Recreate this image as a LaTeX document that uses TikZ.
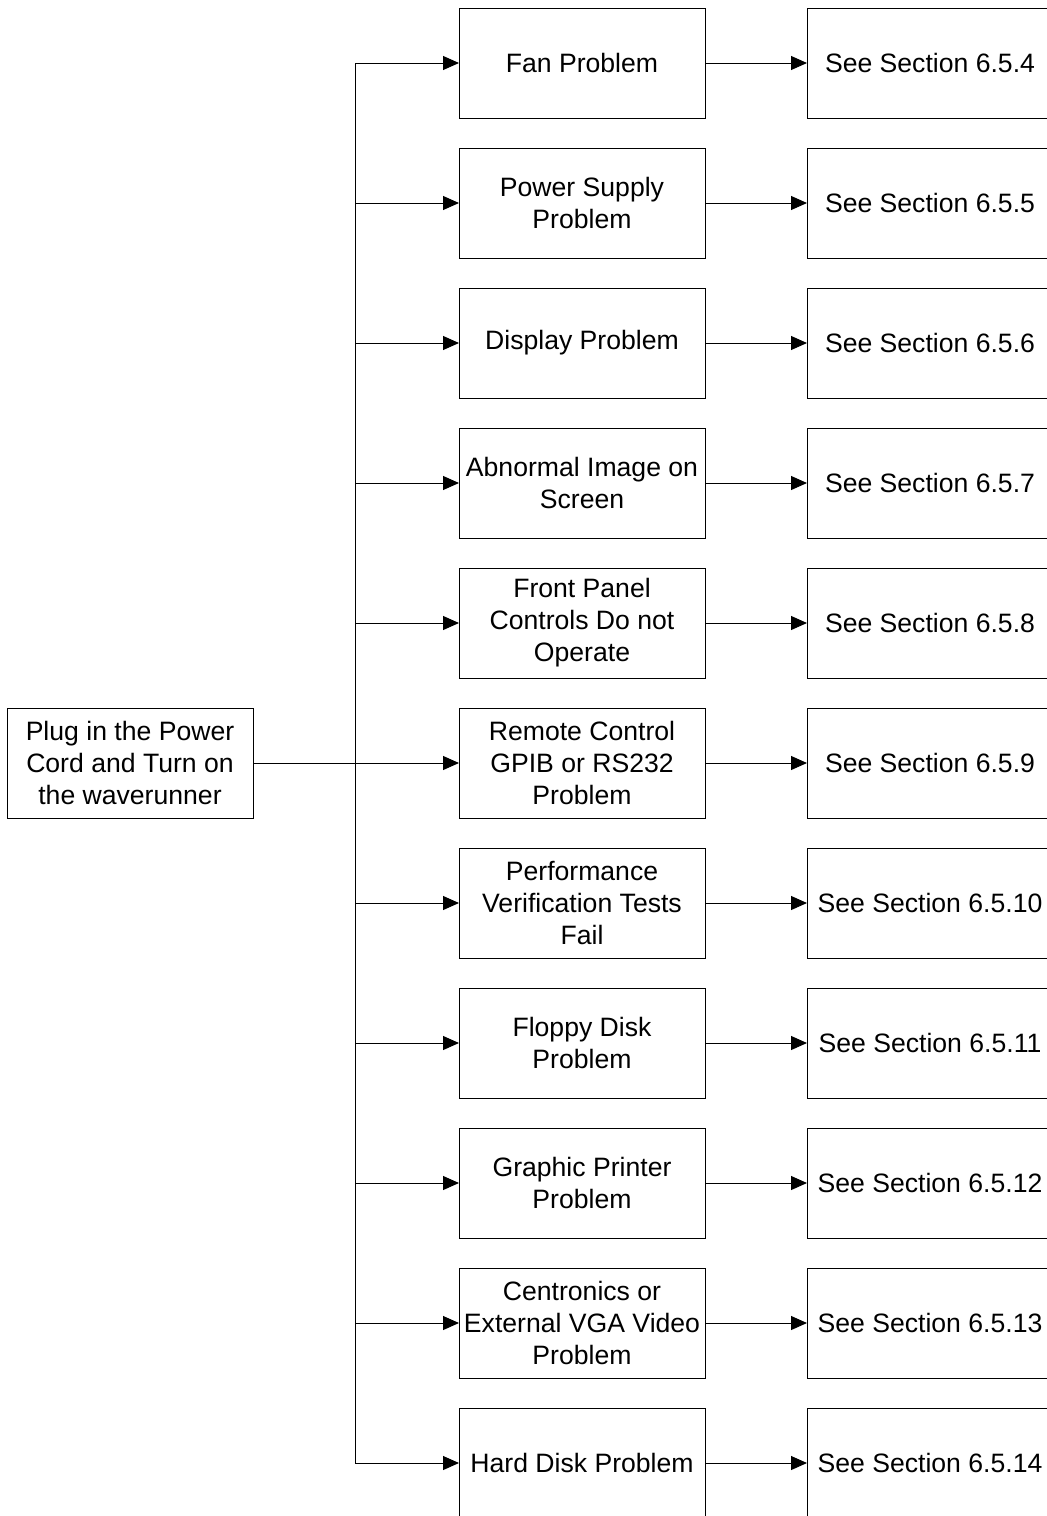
\documentclass[tikz,border=0pt]{standalone}
\usepackage{fontspec}
\setmainfont{Liberation Sans}
\usetikzlibrary{
	arrows.meta,
	positioning
}
\begin{document}
\begin{tikzpicture}[
			x=0.5pt, y=-0.5pt,
			font=\fontsize{13.3}{16}\selectfont,
			blk/.style={draw, line width=0.5pt, minimum width=123pt, minimum height=55pt, inner sep=0pt, outer sep=0pt, align=center},
			>={Triangle[length=8pt,width=7pt]},
			fl/.style={->, line width=0.5pt}
		]
		\path[use as bounding box, clip] (0,0) rectangle (1047,1516);

		\node[blk] (plug) at (130,763) {Plug in the Power\\Cord and Turn on\\the waverunner};

		\node[blk] (p1) at (582,63) {Fan Problem};
		\node[blk, below=15pt of p1] (p2) {Power Supply\\Problem};
		\node[blk, below=15pt of p2] (p3) {Display Problem};
		\node[blk, below=15pt of p3] (p4) {Abnormal Image on\\Screen};
		\node[blk, below=15pt of p4] (p5) {Front Panel\\Controls Do not\\Operate};
		\node[blk, below=15pt of p5] (p6) {Remote Control\\GPIB or RS232\\Problem};
		\node[blk, below=15pt of p6] (p7) {Performance\\Verification Tests\\Fail};
		\node[blk, below=15pt of p7] (p8) {Floppy Disk\\Problem};
		\node[blk, below=15pt of p8] (p9) {Graphic Printer\\Problem};
		\node[blk, below=15pt of p9] (p10) {Centronics or\\External VGA Video\\Problem};
		\node[blk, below=15pt of p10] (p11) {Hard Disk Problem};

		\node[blk, right=51pt of p1] (s1) {See Section 6.5.4};
		\node[blk, right=51pt of p2] (s2) {See Section 6.5.5};
		\node[blk, right=51pt of p3] (s3) {See Section 6.5.6};
		\node[blk, right=51pt of p4] (s4) {See Section 6.5.7};
		\node[blk, right=51pt of p5] (s5) {See Section 6.5.8};
		\node[blk, right=51pt of p6] (s6) {See Section 6.5.9};
		\node[blk, right=51pt of p7] (s7) {See Section 6.5.10};
		\node[blk, right=51pt of p8] (s8) {See Section 6.5.11};
		\node[blk, right=51pt of p9] (s9) {See Section 6.5.12};
		\node[blk, right=51pt of p10] (s10) {See Section 6.5.13};
		\node[blk, right=51pt of p11] (s11) {See Section 6.5.14};

		\coordinate (bus) at (355,0);
		\draw[line width=0.5pt] (bus |- p1.west) -- (bus |- p11.west);
		\draw[line width=0.5pt] (plug.east) -- (bus |- plug.east);

		\draw[fl] (bus |- p1.west) -- (p1.west);
		\draw[fl] (bus |- p2.west) -- (p2.west);
		\draw[fl] (bus |- p3.west) -- (p3.west);
		\draw[fl] (bus |- p4.west) -- (p4.west);
		\draw[fl] (bus |- p5.west) -- (p5.west);
		\draw[fl] (bus |- p6.west) -- (p6.west);
		\draw[fl] (bus |- p7.west) -- (p7.west);
		\draw[fl] (bus |- p8.west) -- (p8.west);
		\draw[fl] (bus |- p9.west) -- (p9.west);
		\draw[fl] (bus |- p10.west) -- (p10.west);
		\draw[fl] (bus |- p11.west) -- (p11.west);

		\draw[fl] (p1) -- (s1);
		\draw[fl] (p2) -- (s2);
		\draw[fl] (p3) -- (s3);
		\draw[fl] (p4) -- (s4);
		\draw[fl] (p5) -- (s5);
		\draw[fl] (p6) -- (s6);
		\draw[fl] (p7) -- (s7);
		\draw[fl] (p8) -- (s8);
		\draw[fl] (p9) -- (s9);
		\draw[fl] (p10) -- (s10);
		\draw[fl] (p11) -- (s11);
	\end{tikzpicture}
\end{document}
